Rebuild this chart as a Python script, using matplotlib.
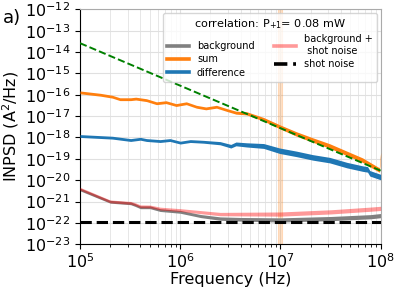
import numpy as np
import matplotlib
matplotlib.use("Agg")
import matplotlib.pyplot as plt
from matplotlib.lines import Line2D
from matplotlib.ticker import LogLocator, NullLocator

# ---------------- data ----------------
sum_freq = [1e5, 1.3e5, 1.6e5, 2.1e5, 2.5e5, 3.2e5, 3.6e5, 4.6e5, 5.8e5, 7.2e5,
            9.1e5, 1.15e6, 1.45e6, 1.8e6, 2.3e6, 2.9e6, 3.6e6, 4.6e6, 6.8e6, 9.8e6,
            1.45e7, 2.1e7, 3.1e7, 4.6e7, 6.6e7, 8.3e7, 9.7e7, 1e8]
sum_psd = [1.29e-16, 1.12e-16, 1.0e-16, 8.1e-17, 6.2e-17, 6.2e-17, 6.6e-17, 5.6e-17, 4.0e-17, 4.5e-17,
           3.3e-17, 4.0e-17, 2.75e-17, 2.3e-17, 2.75e-17, 1.95e-17, 1.45e-17, 1.35e-17, 7.1e-18, 3.2e-18,
           1.45e-18, 7.6e-19, 4.0e-19, 1.8e-19, 8.7e-20, 4.6e-20, 3.0e-20, 1.6e-19]

diff_freq = [1e5, 2.1e5, 3.2e5, 4.0e5, 4.6e5, 6.3e5, 7.9e5, 1e6, 1.26e6, 1.7e6,
             2.5e6, 3.2e6, 3.6e6, 4.6e6, 6.8e6, 9.8e6, 1.45e7, 2.1e7, 3.1e7, 4.6e7,
             6.6e7, 7.4e7, 7.8e7, 9.8e7, 1e8]
diff_psd = [1.17e-18, 9.8e-19, 7.6e-19, 8.7e-19, 7.6e-19, 6.8e-19, 7.6e-19, 5.75e-19, 6.8e-19, 6.3e-19,
            5.4e-19, 3.9e-19, 5.0e-19, 4.5e-19, 4.0e-19, 2.4e-19, 1.7e-19, 1.17e-19, 8.7e-20, 5.1e-20,
            3.5e-20, 3.2e-20, 2.1e-20, 1.45e-20, 1.4e-20]

bg_freq = [1e5, 2.0e5, 3.2e5, 3.55e5, 4.0e5, 5.0e5, 6.3e5, 1e6, 1.6e6, 2.5e6,
           4.0e6, 1e7, 3.2e7, 7.9e7, 1e8]
bg_psd = [3.7e-21, 9.8e-22, 8.3e-22, 6.9e-22, 5.4e-22, 5.4e-22, 4.0e-22, 3.3e-22, 2.1e-22, 1.6e-22,
          1.48e-22, 1.38e-22, 1.6e-22, 1.95e-22, 2.2e-22]
bgsn_psd = [4.0e-21, 1.02e-21, 8.7e-22, 7.6e-22, 6.0e-22, 5.9e-22, 4.7e-22, 4.0e-22, 3.2e-22, 2.6e-22,
            2.6e-22, 2.6e-22, 3.3e-22, 4.4e-22, 4.8e-22]

shot_freq = [1e5, 1e8]
shot_psd = [1.07e-22, 1.07e-22]

fit_freq = [1e5, 1e8]
fit_psd = [2.6e-14, 2.8e-20]

marker_band = [9.4e6, 1.04e7]

labels = ["background", "sum", "difference", "background +\n shot noise", "shot noise"]
legend_title = "correlation: P$_{+1}$= 0.08 mW"

# ---------------- figure ----------------
fig = plt.figure(figsize=(3.99, 2.89), dpi=100)
ax = fig.add_axes([0.2005, 0.1547, 0.7535, 0.8131])
ax.set_xscale("log")
ax.set_yscale("log")
ax.set_xlim(1e5, 1e8)
ax.set_ylim(1e-23, 1e-12)

DEC_PX = 21.36


def band(f, v, t_lo, t_hi, knots=(6.0, 7.0), **kw):
    f = np.asarray(f, float)
    v = np.asarray(v, float)
    t = np.interp(np.log10(f), list(knots), [t_lo, t_hi])
    h = t / 2.0 / DEC_PX
    ax.fill_between(f, v * 10 ** (-h), v * 10 ** h, linewidth=0, **kw)


ax.axvspan(marker_band[0], marker_band[1], color="tab:orange", alpha=0.22, lw=0.8, zorder=1)

band(bg_freq, bg_psd, 2.8, 4.2, color="gray", zorder=2)
band(bg_freq, bgsn_psd, 2.8, 4.2, color="red", alpha=0.4, zorder=3)
band(diff_freq, diff_psd, 2.8, 5.5, knots=(6.3, 7.0), color="tab:blue", zorder=4)
band(sum_freq, sum_psd, 2.8, 4.5, knots=(6.5, 7.2), color="tab:orange", zorder=5)
ax.plot(shot_freq, shot_psd, "--", color="black", lw=2.2, zorder=6)
ax.plot(fit_freq, fit_psd, "--", color="green", lw=1.4, zorder=7)

# axes styling
ax.yaxis.set_major_locator(LogLocator(base=10, numticks=30))
ax.yaxis.set_minor_locator(NullLocator())
ax.xaxis.set_minor_locator(LogLocator(base=10, subs=np.arange(2, 10), numticks=30))
ax.grid(True, which="major", color="#e0e0e0", lw=0.8)
ax.grid(True, which="minor", axis="x", color="#e3e3e3", lw=0.6)
ax.set_axisbelow(True)
for s in ["top", "right"]:
    ax.spines[s].set_color("#aaaaaa")
for s in ["left", "bottom"]:
    ax.spines[s].set_color("black")
ax.tick_params(axis="both", which="major", labelsize=11.5, length=3.5, width=0.8)
ax.tick_params(axis="x", which="minor", length=2, width=0.6)
ax.tick_params(axis="x", pad=2)

ax.set_xlabel("Frequency (Hz)", fontsize=11.5, labelpad=1)
ax.set_ylabel("INPSD (A$^2$/Hz)", fontsize=11.5, labelpad=3)

fig.text(0.008, 0.922, "a)", fontsize=13, va="baseline", ha="left")

handles = [
    Line2D([], [], color="gray", lw=2.6),
    Line2D([], [], color="tab:orange", lw=2.6),
    Line2D([], [], color="tab:blue", lw=2.6),
    Line2D([], [], color="red", alpha=0.4, lw=2.6),
    Line2D([], [], color="black", lw=2.6, ls="--"),
]
leg = ax.legend(handles, labels, ncol=2, loc="upper right", fontsize=7,
                title=legend_title, title_fontsize=8.1, handlelength=2.3,
                borderaxespad=0.4, labelspacing=0.35)
leg.set_zorder(10)

fig.savefig("out.png", dpi=100)
